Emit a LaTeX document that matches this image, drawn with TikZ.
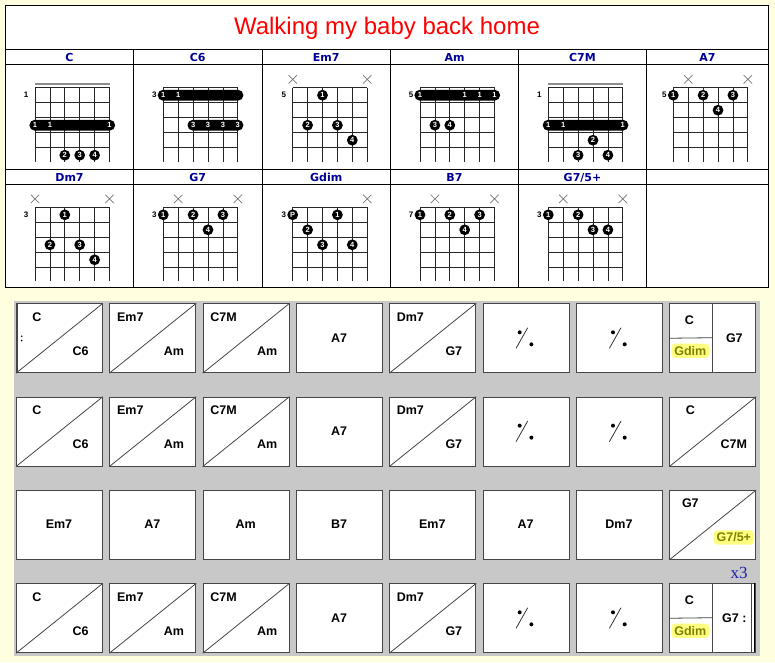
\documentclass[tikz,border=0pt]{standalone}
\usepackage{fontspec}
\setmainfont{Liberation Sans}
\newfontfamily\tahomafont{DejaVu Sans}
\newfontfamily\serifxfont{Liberation Serif}
\usetikzlibrary{calc}

\definecolor{bgyellow}{RGB}{255,255,224}
\definecolor{gridgray}{RGB}{200,200,200}
\definecolor{hdrblue}{RGB}{0,0,150}
\definecolor{olivetxt}{RGB}{128,128,0}
\definecolor{hilite}{RGB}{255,255,130}
\definecolor{xgray}{RGB}{120,120,120}
\definecolor{cellborder}{RGB}{70,70,70}
\definecolor{xblue}{RGB}{30,30,170}
\definecolor{titlered}{RGB}{255,0,0}

\tikzset{
  tline/.style={draw=black,line width=1pt},
  fretline/.style={draw=black!85,line width=0.8pt},
  nutline/.style={draw=black!45,line width=1.2pt},
  fingerdot/.style={circle,fill=black,inner sep=0pt,minimum size=10.8pt,text=white,font=\fontsize{7.5}{8}\selectfont\bfseries},
  barretext/.style={inner sep=0pt,text=white,font=\fontsize{7.5}{8}\selectfont\bfseries},
  fretnum/.style={anchor=east,inner sep=0pt,font=\fontsize{8}{9}\selectfont\bfseries},
  mutemark/.style={draw=xgray,line width=0.7pt},
  hdr/.style={anchor=base,inner sep=0pt,text=hdrblue,font=\tahomafont\fontsize{11}{13}\selectfont\bfseries},
  cellbox/.style={draw=cellborder,fill=white,line width=0.9pt,minimum width=86pt,minimum height=69pt,inner sep=0pt,anchor=north west},
  diagline/.style={draw=cellborder,line width=0.8pt},
  celltxt/.style={anchor=base,inner sep=0pt,font=\fontsize{12.5}{14}\selectfont\bfseries},
  hitxt/.style={anchor=base,inner xsep=3pt,inner ysep=2.5pt,fill=hilite,rounded corners=4pt,text=olivetxt,font=\fontsize{12.5}{14}\selectfont\bfseries},
  repdot/.style={circle,fill=black,inner sep=0pt,minimum size=4pt},
}

% chord diagram helpers
\newcommand\chordgrid[3]{%
  \def\chx{#1}\def\chy{#2}\def\chid{#3}%
  \foreach \i in {0,...,5} {\draw[fretline] (#1+\i*14.9,#2) -- (#1+\i*14.9,#2+74);}
  \foreach \j in {0,...,4} {\draw[fretline] (#1,#2+\j*15) -- (#1+74.5,#2+\j*15);}
}
\newcommand\fdot[3]{\node[fingerdot] (\chid-#1-#2) at (\chx+#1*14.9-14.9,\chy+#2*15-7.5) {#3};}
\newcommand\fbarre[3]{\fill[black,rounded corners=5.3pt] (\chx+#1*14.9-14.9-5.6,\chy+#3*15-7.5-5.4) rectangle (\chx+#2*14.9-14.9+5.6,\chy+#3*15-7.5+5.4);}
\newcommand\fbtext[3]{\node[barretext] (\chid-b#1-#2) at (\chx+#1*14.9-14.9,\chy+#2*15-7.5) {#3};}
\newcommand\fmute[1]{\draw[mutemark] (\chx+#1*14.9-14.9-4.2,\chy-12.6) -- +(8.4,8.4) (\chx+#1*14.9-14.9-4.2,\chy-4.2) -- +(8.4,-8.4);}
\newcommand\fpos[1]{\node[fretnum] (\chid-pos) at (\chx-6.5,\chy+7.5) {#1};}
\newcommand\fnut{\draw[nutline] (\chx-0.5,\chy-3.7) -- (\chx+75,\chy-3.7);}

% grid cell helpers
\newcommand\setcell[2]{\pgfmathsetmacro\gx{16+93.333*#1}\pgfmathsetmacro\gy{303.3+93.333*#2}}
\newcommand\splitcell[6][celltxt]{%
  \setcell{#2}{#3}%
  \node[cellbox] (#4) at (\gx,\gy) {};
  \draw[diagline] (#4.south west) -- (#4.north east);
  \node[celltxt] (#4-a) at (\gx+21,\gy+18) {#5};
  \node[#1] (#4-b) at (\gx+64.5,\gy+52) {#6};
}
\newcommand\onecell[4]{%
  \setcell{#1}{#2}%
  \node[cellbox] (#3) at (\gx,\gy) {};
  \node[celltxt] (#3-a) at (\gx+43,\gy+39) {#4};
}
\newcommand\repcell[3]{%
  \setcell{#1}{#2}%
  \node[cellbox] (#3) at (\gx,\gy) {};
  \node[repdot] (#3-p) at (\gx+37,\gy+29) {};
  \node[repdot] (#3-q) at (\gx+48.7,\gy+41) {};
  \coordinate (#3-s) at (\gx+33.4,\gy+45);
  \coordinate (#3-t) at (\gx+45,\gy+24.4);
  \draw[diagline,draw=black!80] (#3-s) -- (#3-t);
}
\newcommand\quadcell[6]{%
  \setcell{#1}{#2}%
  \node[cellbox] (#3) at (\gx,\gy) {};
  \coordinate (#3-m) at (\gx+43.3,\gy);
  \coordinate (#3-n) at (\gx+43.3,\gy+69);
  \coordinate (#3-h) at (\gx+43.3,\gy+34.4);
  \draw[diagline] (#3-m) -- (#3-n);
  \draw[diagline] (#3.west) -- (#3-h);
  \node[celltxt] (#3-a) at (\gx+20,\gy+21.2) {#4};
  \node[hitxt] (#3-b) at (\gx+21,\gy+51.9) {#5};
  \node[celltxt] (#3-c) at (\gx+65,\gy+39.2) {#6};
}

\begin{document}
\begin{tikzpicture}[x=1pt,y=-1pt]
\fill[bgyellow] (0,0) rectangle (775,662);
\useasboundingbox (0,0) rectangle (775,662);

% ---------- top table ----------
\fill[white] (5.5,5.5) rectangle (768.5,287.5);
\draw[tline] (5.5,5.5) rectangle (768.5,287.5);
\foreach \yy in {49.3,64.3,169.3,184.3} {\draw[tline] (5.5,\yy) -- (768.5,\yy);}
\foreach \xx in {133.5,262,390.5,518.5,646.5} {\draw[tline] (\xx,49.3) -- (\xx,287.5);}
\node[anchor=base,inner sep=0pt,text=titlered,font=\fontsize{24}{28}\selectfont] (title) at (387,34.7) {Walking my baby back home};

% headers
\node[hdr] (h1) at (69.5,61) {C};
\node[hdr] (h2) at (197.7,61) {C6};
\node[hdr] (h3) at (326.2,61) {Em7};
\node[hdr] (h4) at (454.5,61) {Am};
\node[hdr] (h5) at (582.5,61) {C7M};
\node[hdr] (h6) at (707.5,61) {A7};
\node[hdr] (h7) at (69.5,181) {Dm7};
\node[hdr] (h8) at (197.7,181) {G7};
\node[hdr] (h9) at (326.2,181) {Gdim};
\node[hdr] (h10) at (454.5,181) {B7};
\node[hdr] (h11) at (582.5,181) {G7/5+};

% C
\chordgrid{35}{87.7}{chC}
\fnut \fpos{1}
\fbarre{1}{6}{3} \fbtext{1}{3}{1} \fbtext{2}{3}{1} \fbtext{6}{3}{1}
\fdot{3}{5}{2} \fdot{4}{5}{3} \fdot{5}{5}{4}
% C6
\chordgrid{163.3}{87.7}{chCsix}
\fpos{3}
\fbarre{1}{6}{1} \fbtext{1}{1}{1} \fbtext{2}{1}{1}
\fbarre{3}{6}{3} \fbtext{3}{3}{3} \fbtext{4}{3}{3} \fbtext{5}{3}{3} \fbtext{6}{3}{3}
% Em7
\chordgrid{292.7}{87.7}{chEm}
\fmute{1} \fmute{6} \fpos{5}
\fdot{3}{1}{1} \fdot{2}{3}{2} \fdot{4}{3}{3} \fdot{5}{4}{4}
% Am
\chordgrid{420}{87.7}{chAm}
\fpos{5}
\fbarre{1}{6}{1} \fbtext{1}{1}{1} \fbtext{4}{1}{1} \fbtext{5}{1}{1} \fbtext{6}{1}{1}
\fdot{2}{3}{3} \fdot{3}{3}{4}
% C7M
\chordgrid{548.3}{87.7}{chCM}
\fnut \fpos{1}
\fbarre{1}{6}{3} \fbtext{1}{3}{1} \fbtext{2}{3}{1} \fbtext{6}{3}{1}
\fdot{4}{4}{2} \fdot{3}{5}{3} \fdot{5}{5}{4}
% A7
\chordgrid{673.3}{87.7}{chA}
\fmute{2} \fmute{6} \fpos{5}
\fdot{1}{1}{1} \fdot{3}{1}{2} \fdot{5}{1}{3} \fdot{4}{2}{4}
% Dm7
\chordgrid{35}{207.3}{chDm}
\fmute{1} \fmute{6} \fpos{3}
\fdot{3}{1}{1} \fdot{2}{3}{2} \fdot{4}{3}{3} \fdot{5}{4}{4}
% G7
\chordgrid{163.3}{207.3}{chG}
\fmute{2} \fmute{6} \fpos{3}
\fdot{1}{1}{1} \fdot{3}{1}{2} \fdot{5}{1}{3} \fdot{4}{2}{4}
% Gdim
\chordgrid{292.7}{207.3}{chGd}
\fmute{6} \fpos{3}
\fdot{1}{1}{P} \fdot{4}{1}{1} \fdot{2}{2}{2} \fdot{3}{3}{3} \fdot{5}{3}{4}
% B7
\chordgrid{420}{207.3}{chB}
\fmute{2} \fmute{6} \fpos{7}
\fdot{1}{1}{1} \fdot{3}{1}{2} \fdot{5}{1}{3} \fdot{4}{2}{4}
% G7/5+
\chordgrid{548.3}{207.3}{chGa}
\fmute{2} \fmute{6} \fpos{3}
\fdot{1}{1}{1} \fdot{3}{1}{2} \fdot{4}{2}{3} \fdot{5}{2}{4}

% ---------- chord grid ----------
\fill[gridgray] (14,300.5) rectangle (760,656);

% row 0
\splitcell{0}{0}{rAa}{C}{C6}
\draw[diagline] (17.6,303.3) -- (17.6,372.3);
\fill[black] (21.7,336.2) circle (0.9) (21.7,340.6) circle (0.9);
\splitcell{1}{0}{rAb}{Em7}{Am}
\splitcell{2}{0}{rAc}{C7M}{Am}
\onecell{3}{0}{rAd}{A7}
\splitcell{4}{0}{rAe}{Dm7}{G7}
\repcell{5}{0}{rAf}
\repcell{6}{0}{rAg}
\quadcell{7}{0}{rAh}{C}{Gdim}{G7}
% row 1
\splitcell{0}{1}{rBa}{C}{C6}
\splitcell{1}{1}{rBb}{Em7}{Am}
\splitcell{2}{1}{rBc}{C7M}{Am}
\onecell{3}{1}{rBd}{A7}
\splitcell{4}{1}{rBe}{Dm7}{G7}
\repcell{5}{1}{rBf}
\repcell{6}{1}{rBg}
\splitcell{7}{1}{rBh}{C}{C7M}
% row 2
\onecell{0}{2}{rCa}{Em7}
\onecell{1}{2}{rCb}{A7}
\onecell{2}{2}{rCc}{Am}
\onecell{3}{2}{rCd}{B7}
\onecell{4}{2}{rCe}{Em7}
\onecell{5}{2}{rCf}{A7}
\onecell{6}{2}{rCg}{Dm7}
\splitcell[hitxt]{7}{2}{rCh}{G7}{G7/5+}
% row 3
\splitcell{0}{3}{rDa}{C}{C6}
\splitcell{1}{3}{rDb}{Em7}{Am}
\splitcell{2}{3}{rDc}{C7M}{Am}
\onecell{3}{3}{rDd}{A7}
\splitcell{4}{3}{rDe}{Dm7}{G7}
\repcell{5}{3}{rDf}
\repcell{6}{3}{rDg}
\quadcell{7}{3}{rDh}{C}{Gdim}{G7 :}
\draw[diagline] (751.5,583.3) -- (751.5,652.3);
\draw[black,line width=1.6pt] (754.6,583.3) -- (754.6,652.3);

\node[anchor=base,inner sep=0pt,text=xblue,font=\serifxfont\fontsize{17}{20}\selectfont] (rep) at (739,578) {x3};
\end{tikzpicture}
\end{document}
